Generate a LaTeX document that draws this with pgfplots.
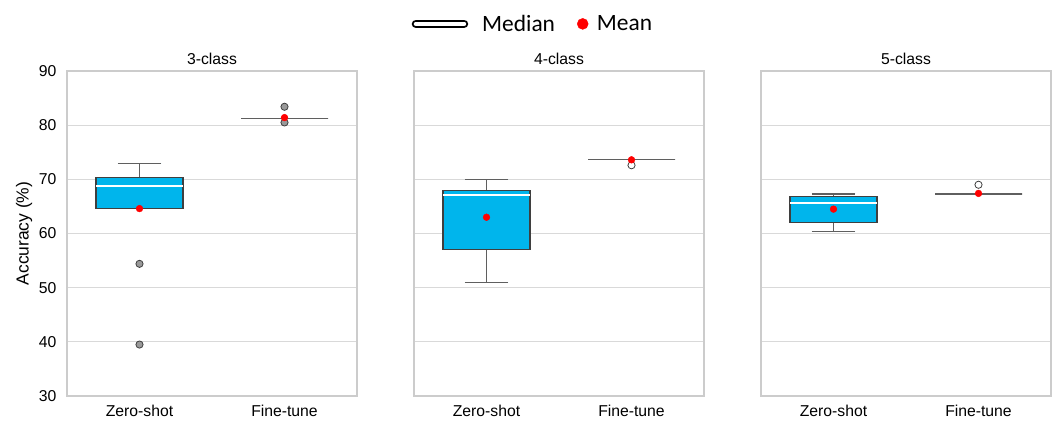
\documentclass[border=0pt]{standalone}
\usepackage{fontspec}
\setmainfont{Liberation Sans}
\newfontfamily\legfont{Carlito}
\usepackage{pgfplots}
\usepgfplotslibrary{statistics}
\pgfplotsset{compat=1.18}

\definecolor{boxfill}{RGB}{0,181,236}
\definecolor{edgegray}{RGB}{63,63,63}
\definecolor{whiskgray}{RGB}{95,95,95}
\definecolor{gridgray}{RGB}{217,217,217}
\definecolor{spinegray}{RGB}{204,204,204}
\definecolor{outgray}{RGB}{153,153,153}

\pgfplotsset{
  panel/.style={
    scale only axis, width=290bp, height=325bp,
    anchor=south west,
    xmin=-0.5, xmax=1.5, ymin=30, ymax=90,
    xtick={0,1}, xticklabels={Zero-shot,Fine-tune},
    ytick={30,40,...,90},
    ymajorgrids, grid style={gridgray, line width=0.9bp},
    axis line style={spinegray, line width=1.2bp},
    major tick length=0pt,
    tick label style={font=\fontsize{15.8}{18}\selectfont},
    xticklabel style={yshift=-6bp},
    yticklabel style={xshift=-7bp},
    label style={font=\fontsize{17.5}{20}\selectfont},
    /pgf/number format/assume math mode=true,
    title style={font=\fontsize{15.8}{18}\selectfont, yshift=-3bp},
    boxplot/draw direction=y,
    boxplot/box extend=0.6,
    boxplot/whisker extend=0.3,
    cycle list={{fill=boxfill, draw=edgegray}},
  },
  zstyle/.style={
    fill=boxfill, draw=edgegray, line width=1.1bp, solid,
    boxplot/every median/.style={draw=white, line width=2.2bp},
    boxplot/every whisker/.style={draw=whiskgray, line width=1.1bp},
  },
  fstyle/.style={
    fill=white, draw=whiskgray, line width=1.1bp, solid,
    boxplot/every median/.style={draw=whiskgray, line width=1.1bp},
    boxplot/every whisker/.style={draw=whiskgray, line width=1.1bp},
  },
  grayout/.style={mark=*, mark size=3.6bp, mark options={fill=outgray, draw=edgegray, line width=0.8bp}},
  whiteout/.style={mark=*, mark size=3.6bp, mark options={fill=white, draw=edgegray, line width=0.8bp}},
  meanpt/.style={only marks, mark=*, mark size=3.4bp, color=red, forget plot},
}

\begin{document}
\begin{tikzpicture}
\useasboundingbox (0,0) rectangle (1056bp,421bp);

% ---------- 3-class ----------
\begin{axis}[panel, at={(67bp,25bp)}, title={3-class}, ylabel={Accuracy (\%)}]
\addplot+[boxplot prepared={draw position=0, lower whisker=64.6, lower quartile=64.6, median=68.8, upper quartile=70.4, upper whisker=73.0}, zstyle, grayout, forget plot]
  coordinates {(0,54.4) (0,39.5)};
\addplot+[boxplot prepared={draw position=1, lower whisker=81.3, lower quartile=81.3, median=81.3, upper quartile=81.3, upper whisker=81.3}, fstyle, grayout, forget plot]
  coordinates {(1,83.4) (1,80.5)};
\addplot[meanpt] coordinates {(0,64.6) (1,81.4)};
\end{axis}

% ---------- 4-class ----------
\begin{axis}[panel, at={(414bp,25bp)}, title={4-class}, yticklabels={},
  legend style={draw=none, fill=none, at={(0.41,1.145)}, anchor=center,
    legend columns=2, font=\legfont\fontsize{23.5}{26}\selectfont,
    /tikz/every even column/.append style={column sep=20bp}},
  legend cell align=left]
\addlegendimage{legend image code/.code={
  \draw[black, line width=8.5bp, line cap=round] (-8bp,0bp) -- (40bp,0bp);
  \draw[white, line width=4.5bp, line cap=round] (-8bp,0bp) -- (40bp,0bp);
  \path (56bp,0bp);}}
\addlegendentry{Median}
\addlegendimage{legend image code/.code={
  \fill[red] (14bp,0bp) circle (5.5bp);
  \path (26bp,0bp);}}
\addlegendentry{Mean}
\addplot+[boxplot prepared={draw position=0, lower whisker=51.0, lower quartile=57.1, median=67.05, upper quartile=67.9, upper whisker=69.9}, zstyle, grayout, forget plot]
  coordinates {};
\addplot+[boxplot prepared={draw position=1, lower whisker=73.6, lower quartile=73.6, median=73.6, upper quartile=73.6, upper whisker=73.6}, fstyle, whiteout, forget plot]
  coordinates {(1,72.6)};
\addplot[meanpt] coordinates {(0,63.0) (1,73.6)};
\end{axis}

% ---------- 5-class ----------
\begin{axis}[panel, at={(761bp,25bp)}, title={5-class}, yticklabels={}]
\addplot+[boxplot prepared={draw position=0, lower whisker=60.4, lower quartile=62.1, median=65.6, upper quartile=66.9, upper whisker=67.3}, zstyle, grayout, forget plot]
  coordinates {};
\addplot+[boxplot prepared={draw position=1, lower whisker=67.3, lower quartile=67.3, median=67.3, upper quartile=67.3, upper whisker=67.3}, fstyle, whiteout, forget plot]
  coordinates {(1,69.0)};
\addplot[meanpt] coordinates {(0,64.5) (1,67.4)};
\end{axis}
\end{tikzpicture}
\end{document}
